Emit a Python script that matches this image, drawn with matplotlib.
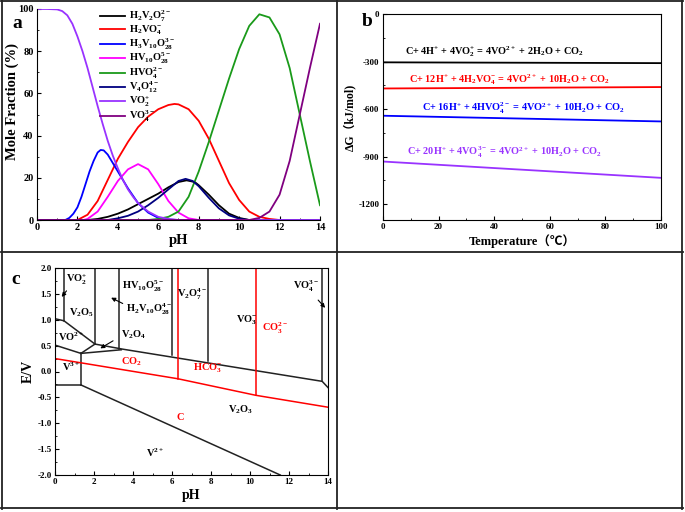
import matplotlib
matplotlib.use("Agg")
import matplotlib.pyplot as plt
from matplotlib.lines import Line2D
from matplotlib.ticker import MultipleLocator, FormatStrFormatter

plt.rcParams['font.family'] = ['Liberation Serif', 'Noto Sans CJK SC', 'DejaVu Sans']
plt.rcParams['font.weight'] = 'bold'
plt.rcParams['mathtext.fontset'] = 'custom'
plt.rcParams['mathtext.rm'] = 'Liberation Serif:bold'
plt.rcParams['mathtext.it'] = 'Liberation Serif:bold'
plt.rcParams['mathtext.bf'] = 'Liberation Serif:bold'
plt.rcParams['mathtext.default'] = 'rm'
plt.rcParams['axes.unicode_minus'] = False

# ---------------- Panel a data ----------------
species_labels = [r"H$_2$V$_2$O$_7^{2-}$", r"H$_2$VO$_4^{-}$", r"H$_3$V$_{10}$O$_{28}^{3-}$",
                  r"HV$_{10}$O$_{28}^{5-}$", r"HVO$_4^{2-}$", r"V$_4$O$_{12}^{4-}$",
                  r"VO$_2^{+}$", r"VO$_4^{3-}$"]
species_colors = ["#000000", "#FF0000", "#0000FF", "#FF00FF", "#1A9A1A", "#000080", "#9933FF", "#800080"]

ph_h2v2o7 = [0, 2.5, 3.0, 3.5, 4.0, 4.5, 5.0, 5.5, 6.0, 6.5, 7.0, 7.4, 7.8, 8.0, 8.5, 9.0, 9.5, 10.0, 10.5, 14]
h2v2o7 = [0, 0, 0.5, 1.5, 3, 5, 7.5, 10, 12.5, 15.5, 18, 18.8, 18, 16.5, 12, 7, 3, 1, 0, 0]

ph_h2vo4 = [0, 2.0, 2.5, 3.0, 3.5, 4.0, 4.5, 5.0, 5.5, 6.0, 6.5, 6.8, 7.0, 7.5, 8.0, 8.5, 9.0, 9.5, 10.0, 10.5, 11.0, 11.5, 12.0, 14]
h2vo4 = [0, 0, 2.5, 9, 19, 29, 37, 44, 49, 52.5, 54.5, 55, 54.8, 52.5, 47, 38.5, 28, 17.5, 9.5, 4, 1.5, 0.5, 0, 0]

ph_h3v10 = [0, 1.4, 1.6, 1.8, 2.0, 2.2, 2.4, 2.6, 2.8, 3.0, 3.15, 3.3, 3.5, 3.75, 4.0, 4.25, 4.5, 4.75, 5.0, 5.5, 6.0, 6.5, 7.0, 14]
h3v10 = [0, 0, 1, 3, 6, 11, 17, 23, 28, 32, 33.2, 33, 31, 27, 23, 19, 15, 11.5, 8, 3.5, 1, 0.2, 0, 0]

ph_hv10 = [0, 2.3, 2.5, 3.0, 3.5, 4.0, 4.5, 5.0, 5.5, 6.0, 6.5, 7.0, 7.5, 8.0, 14]
hv10 = [0, 0, 0.5, 4, 11, 18.5, 24, 26.5, 24, 17, 9, 3.5, 0.8, 0, 0]

ph_hvo4 = [0, 5.5, 6.0, 6.5, 7.0, 7.5, 8.0, 8.5, 9.0, 9.5, 10.0, 10.5, 11.0, 11.5, 12.0, 12.5, 13.0, 13.5, 14.0]
hvo4 = [0, 0, 0.5, 1.5, 4, 11, 23, 37, 52, 67, 81, 92, 97.5, 96, 88, 72, 50, 28, 7]

ph_v4o12 = [0, 3.5, 4.0, 4.5, 5.0, 5.5, 6.0, 6.5, 7.0, 7.35, 7.7, 8.0, 8.5, 9.0, 9.5, 10.0, 10.5, 14]
v4o12 = [0, 0, 0.8, 2, 4, 7, 10.5, 14.5, 18.5, 19.5, 18.5, 16, 10.5, 5.5, 2.2, 0.6, 0, 0]

ph_vo2 = [0, 0.5, 1.0, 1.25, 1.5, 1.75, 2.0, 2.25, 2.5, 2.75, 3.0, 3.25, 3.5, 3.75, 4.0, 4.25, 4.5, 4.75, 5.0, 5.5, 6.0, 6.5, 7.0, 14]
vo2 = [100, 100, 99.8, 99, 97, 93, 87, 80, 72, 63, 54, 45.5, 37.5, 30.5, 24.5, 19, 14.5, 11, 8, 4, 1.5, 0.5, 0, 0]

ph_vo4 = [0, 10.5, 11.0, 11.5, 12.0, 12.5, 13.0, 13.5, 14.0]
vo4 = [0, 0, 1, 4, 12, 28, 50, 72, 93]

# ---------------- Panel b data ----------------
temps = [0, 100]
dg_vo2 = [-305, -310]
dg_h2vo4 = [-470, -461]
dg_hvo4 = [-642, -678]
dg_vo4 = [-931, -1034]
reaction_labels = [
    r"C+ 4H$^{+}$ + 4VO$_2^{+}$ = 4VO$^{2+}$ + 2H$_2$O + CO$_2$",
    r"C+ 12H$^{+}$ + 4H$_2$VO$_4^{-}$ = 4VO$^{2+}$ + 10H$_2$O + CO$_2$",
    r"C+ 16H$^{+}$ + 4HVO$_4^{2-}$ = 4VO$^{2+}$ + 10H$_2$O + CO$_2$",
    r"C+ 20H$^{+}$ + 4VO$_4^{3-}$ = 4VO$^{2+}$ + 10H$_2$O + CO$_2$",
]
reaction_colors = ["#000000", "#FF0000", "#0000FF", "#9933FF"]

# ---------------- Panel c data ----------------
c_black_lines = [
    ([0.46, 0.46], [2.0, 0.98]),
    ([0, 0.46, 2.05], [1.02, 0.98, 0.53]),
    ([2.05, 2.05], [2.0, 0.53]),
    ([3.3, 3.3], [2.0, 0.44]),
    ([2.05, 3.5, 13.7, 14.0], [0.53, 0.43, -0.19, -0.31]),
    ([1.33, 2.05], [0.35, 0.53]),
    ([1.33, 3.4], [0.35, 0.42]),
    ([6.0, 6.0], [2.0, 0.31]),
    ([7.85, 7.85], [2.0, 0.21]),
    ([13.7, 13.7], [2.0, -0.19]),
    ([0, 1.33], [0.51, 0.35]),
    ([1.33, 1.33], [0.35, -0.26]),
    ([0, 1.33], [-0.26, -0.26]),
    ([1.33, 11.55], [-0.26, -2.0]),
]
c_red_lines = [
    ([0, 6.3, 10.3, 14.0], [0.25, -0.14, -0.46, -0.69]),
    ([6.3, 6.3], [2.0, -0.14]),
    ([10.3, 10.3], [2.0, -0.46]),
]
c_labels = [
    (r"VO$_2^{+}$", 1.1, 1.77, "k"),
    (r"V$_2$O$_5$", 1.35, 1.13, "k"),
    (r"HV$_{10}$O$_{28}^{5-}$", 4.5, 1.65, "k"),
    (r"H$_2$V$_{10}$O$_{28}^{4-}$", 4.8, 1.19, "k"),
    (r"V$_2$O$_7^{4-}$", 7.05, 1.48, "k"),
    (r"VO$_3^{-}$", 9.85, 0.99, "k"),
    (r"CO$_3^{2-}$", 11.3, 0.83, "r"),
    (r"VO$_4^{3-}$", 12.9, 1.65, "k"),
    (r"VO$^{2+}$", 0.8, 0.68, "k"),
    (r"V$_2$O$_4$", 4.05, 0.71, "k"),
    (r"CO$_2$", 3.9, 0.19, "r"),
    (r"V$^{3+}$", 0.8, 0.10, "k"),
    (r"HCO$_3^{-}$", 7.85, 0.06, "r"),
    (r"C", 6.4, -0.88, "r"),
    (r"V$_2$O$_3$", 9.5, -0.74, "k"),
    (r"V$^{2+}$", 5.15, -1.58, "k"),
]
c_arrows = [  # (tail x, tail y, head x, head y)
    (0.68, 1.60, 0.25, 1.40),
    (3.6, 1.29, 2.75, 1.45),
    (3.1, 0.62, 2.2, 0.42),
    (13.4, 1.42, 13.95, 1.19),
]

W, H = 685, 512
fig = plt.figure(figsize=(W / 100, H / 100), dpi=100)


def box(px_left, px_top, px_right, px_bottom):
    return [px_left / W, 1 - px_bottom / H, (px_right - px_left) / W, (px_bottom - px_top) / H]


tick_fs = 7.5


def style_ticks(ax):
    ax.tick_params(which='both', direction='in', labelsize=tick_fs, pad=2.5)
    ax.tick_params(which='major', length=3)
    ax.tick_params(which='minor', length=1.5)


# ---------- Panel a ----------
axa = fig.add_axes(box(37, 9, 320, 220))
series = [(ph_h2v2o7, h2v2o7), (ph_h2vo4, h2vo4), (ph_h3v10, h3v10), (ph_hv10, hv10),
          (ph_hvo4, hvo4), (ph_v4o12, v4o12), (ph_vo2, vo2), (ph_vo4, vo4)]
for (x, y), lab, col in zip(series, species_labels, species_colors):
    axa.plot(x, y, color=col, lw=1.3, label=lab)
axa.set_xlim(0, 14)
axa.set_ylim(0, 100)
axa.spines['top'].set_visible(False)
axa.spines['right'].set_visible(False)
axa.xaxis.set_major_locator(MultipleLocator(2))
axa.xaxis.set_minor_locator(MultipleLocator(1))
axa.yaxis.set_major_locator(MultipleLocator(20))
axa.yaxis.set_minor_locator(MultipleLocator(10))
style_ticks(axa)
axa.set_xlabel("pH", fontsize=10.5, fontweight='bold', labelpad=1)
axa.set_ylabel("Mole Fraction (%)", fontsize=10.5, fontweight='bold', labelpad=1)
axa.yaxis.set_label_coords(-0.065, 0.56)
leg = axa.legend(loc='upper left', bbox_to_anchor=(0.22, 1.005), frameon=False, fontsize=7.5,
                 handlelength=2.4, handletextpad=0.35, labelspacing=-0.05, borderpad=0.1,
                 borderaxespad=0)
fig.text(12 / W, 1 - 23 / H, "a", fontsize=14, fontweight='bold', va='center', ha='left')

# ---------- Panel b ----------
axb = fig.add_axes(box(383, 14, 661, 220))
for y, col in zip([dg_vo2, dg_h2vo4, dg_hvo4, dg_vo4], reaction_colors):
    axb.plot(temps, y, color=col, lw=1.3)
text_pos = [(40.2, -235), (45.6, -413), (50.4, -596), (43.8, -871)]
for (tx, ty), lab, col in zip(text_pos, reaction_labels, reaction_colors):
    axb.text(tx, ty, lab, color=col, fontsize=7.4, fontweight='bold', ha='center', va='center')
axb.set_xlim(0, 100)
axb.set_ylim(-1300, 0)
axb.xaxis.set_major_locator(MultipleLocator(20))
axb.xaxis.set_minor_locator(MultipleLocator(10))
axb.yaxis.set_major_locator(MultipleLocator(300))
axb.yaxis.set_minor_locator(MultipleLocator(150))
style_ticks(axb)
axb.tick_params(axis='both', labelsize=6.5)
axb.set_xlabel("Temperature（℃）", fontsize=9, fontweight='bold', labelpad=2)
axb.set_ylabel("ΔG（kJ/mol)", fontsize=8.5, fontweight='bold', labelpad=2)
fig.text(362 / W, 1 - 22 / H, "b", fontsize=14, fontweight='bold', va='center', ha='left')

# ---------- Panel c ----------
axc = fig.add_axes(box(55, 268, 328, 475))
for x, y in c_black_lines:
    axc.plot(x, y, color='#222222', lw=1.1)
for x, y in c_red_lines:
    axc.plot(x, y, color='#FF0000', lw=1.1)
for lab, x, y, col in c_labels:
    axc.text(x, y, lab, color=('#FF0000' if col == 'r' else 'k'), fontsize=7.5,
             fontweight='bold', ha='center', va='center')
for x0, y0, x1, y1 in c_arrows:
    axc.annotate("", xy=(x1, y1), xytext=(x0, y0),
                 arrowprops=dict(arrowstyle='-|>', color='k', lw=0.8, mutation_scale=6))
axc.set_xlim(0, 14)
axc.set_ylim(-2.0, 2.0)
axc.xaxis.set_major_locator(MultipleLocator(2))
axc.xaxis.set_minor_locator(MultipleLocator(1))
axc.yaxis.set_major_locator(MultipleLocator(0.5))
axc.yaxis.set_minor_locator(MultipleLocator(0.25))
axc.yaxis.set_major_formatter(FormatStrFormatter('%.1f'))
style_ticks(axc)
axc.tick_params(axis='both', labelsize=6.5)
axc.set_xlabel("pH", fontsize=10, fontweight='bold', labelpad=2)
axc.set_ylabel("E/V", fontsize=10, fontweight='bold', labelpad=2)
fig.text(11 / W, 1 - 280 / H, "c", fontsize=14, fontweight='bold', va='center', ha='left')

# ---------- panel borders ----------
def fline(x0, y0, x1, y1):
    fig.add_artist(Line2D([x0 / W, x1 / W], [1 - y0 / H, 1 - y1 / H], color='#222222', lw=1.3))


for xv in (2, 337, 682):
    fline(xv, 1, xv, 509)
for yv in (1, 252, 508):
    fline(1, yv, 683, yv)

fig.savefig("out.png", dpi=100)
